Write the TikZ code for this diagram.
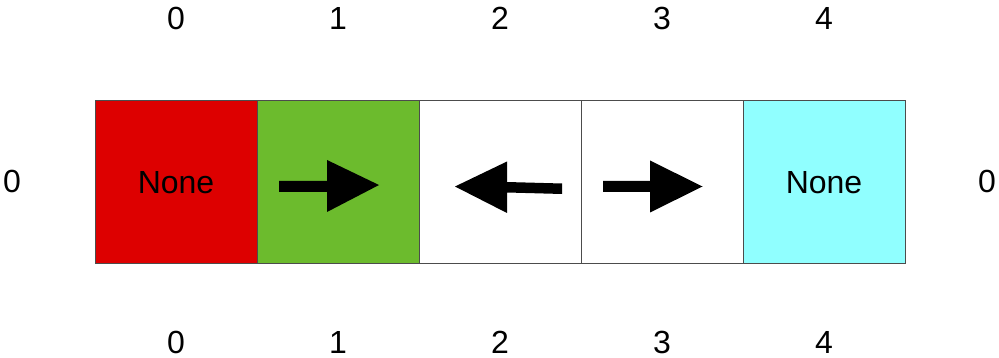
\documentclass[tikz,border=0pt]{standalone}
\usepackage{fontspec}
\setmainfont{Liberation Sans}
\usetikzlibrary{shapes,arrows}
\definecolor{cellred}{RGB}{221,0,0}
\definecolor{cellgreen}{RGB}{108,187,45}
\definecolor{cellcyan}{RGB}{144,255,255}
\tikzset{
	cell/.style={draw=black!70, line width=1pt, minimum width=162pt, minimum height=163pt, inner sep=0pt, font=\fontsize{32}{38}\selectfont},
	idx/.style={inner sep=0pt, font=\fontsize{32}{38}\selectfont}
}

\begin{document}
\begin{tikzpicture}[x=1pt,y=-1pt]
		\useasboundingbox (0,0) rectangle (999,358);
		\node[cell, fill=cellred] (cell0) at (176,182.5) {None};
		\node[cell, fill=cellgreen] (cell1) at (338,182.5) {};
		\node[cell, fill=white] (cell2) at (500,182.5) {};
		\node[cell, fill=white] (cell3) at (662,182.5) {};
		\node[cell, fill=cellcyan] (cell4) at (824,182.5) {None};
		\node[idx] (top0) at (176,18) {0};
		\node[idx] (top1) at (338,18) {1};
		\node[idx] (top2) at (500,18) {2};
		\node[idx] (top3) at (662,18) {3};
		\node[idx] (top4) at (824,18) {4};
		\node[idx] (bot0) at (176,342) {0};
		\node[idx] (bot1) at (338,342) {1};
		\node[idx] (bot2) at (500,342) {2};
		\node[idx] (bot3) at (662,342) {3};
		\node[idx] (bot4) at (824,342) {4};
		\node[idx] (left0) at (12,181) {0};
		\node[idx] (right0) at (987,181) {0};
		\fill[black] (279,181) -- (327,181) -- (327,160) -- (379,185) -- (327,212) -- (327,192) -- (279,192) -- cycle;
		\fill[black] (562,183.5) -- (507,182) -- (507,161.5) -- (455,186.5) -- (507,213) -- (507,192.5) -- (562,194) -- cycle;
		\fill[black] (603,181) -- (650,181) -- (650,160.5) -- (702.5,186.5) -- (650,212.5) -- (650,192) -- (603,192) -- cycle;
\end{tikzpicture}
\end{document}
